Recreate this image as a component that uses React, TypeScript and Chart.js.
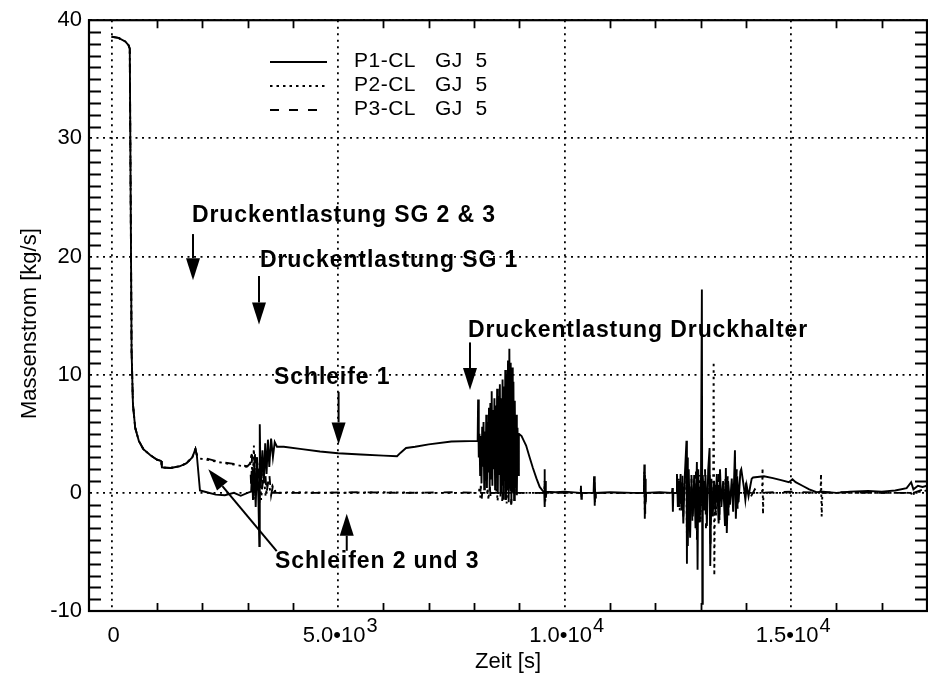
import React, { useEffect, useRef } from "react";
import { Chart, registerables } from "chart.js";

Chart.register(...registerables);

const FONT = "'Liberation Sans', Arial, Helvetica, sans-serif";

// ---------- data ----------
const seriesNames = ["P1-CL   GJ  5", "P2-CL   GJ  5", "P3-CL   GJ  5"];

const xMin = -500;
const xMax = 18000;
const yMin = -10;
const yMax = 40;
const xMajorTicks = [0, 5000, 10000, 15000];
const yMajorTicks = [-10, 0, 10, 20, 30, 40];
const xTickMantissa = ["0", "5.0\u202210", "1.0\u202210", "1.5\u202210"];
const xTickExponent = ["", "3", "4", "4"];

const xTitle = "Zeit [s]";
const yTitle = "Massenstrom [kg/s]";

// [time s, mass flow kg/s]
const startPhase: [number, number][] = [
  [0, 38.6], [150, 38.5], [300, 38.2], [370, 37.9], [400, 37.6], [420, 25], [440, 12],
  [470, 7.5], [520, 5.5], [600, 4.4], [700, 3.7], [850, 3.2], [1000, 2.8], [1090, 2.7],
  [1110, 2.15], [1300, 2.1], [1500, 2.25], [1650, 2.5], [1780, 3.0], [1850, 3.7], [1880, 3.2],
];

const p1Later: [number, number][] = [
  [1950, 0.2], [2100, 0.05], [2300, -0.15], [2500, -0.2], [2700, 0.0], [2850, -0.25], [3000, 0.0],
  [3080, 0.1], [3100, 1.8], [3120, -0.6], [3150, 2.6], [3180, -1.2], [3210, 3.0], [3240, -0.5],
  [3260, -4.5], [3270, 5.8], [3290, 0.4], [3330, 3.6], [3360, 0.8], [3390, 4.2], [3420, 1.6],
  [3450, 4.5], [3480, 2.2], [3520, 4.6], [3560, 3.0], [3600, 4.3], [3650, 3.9], [3800, 3.9],
  [4200, 3.7], [4600, 3.5], [5000, 3.35], [5500, 3.25], [6000, 3.15], [6300, 3.1], [6380, 3.4],
  [6500, 3.8], [6700, 3.9], [7000, 4.1], [7500, 4.35], [8080, 4.4],
  [8090, 7.9], [8105, 3.0], [8120, 5.0], [8135, 1.5], [8150, 4.8], [8165, 0.8], [8180, 5.6],
  [8195, 2.2], [8210, 6.0], [8225, 0.3], [8240, 5.2], [8255, 1.0], [8270, 6.6], [8285, 0.4],
  [8300, 6.0], [8315, 1.8], [8330, 7.2], [8345, 0.2], [8360, 7.6], [8375, 1.2], [8390, 8.6],
  [8405, 0.6], [8420, 7.0], [8435, 2.0], [8450, 8.0], [8465, 0.3], [8480, 7.4], [8495, 1.4],
  [8510, 8.8], [8525, 0.0], [8540, 8.2], [8555, 1.6], [8570, 9.2], [8585, -0.3], [8600, 8.0],
  [8615, 0.6], [8630, 9.6], [8645, -0.5], [8660, 9.0], [8675, 1.0], [8690, 10.4], [8705, -0.6],
  [8720, 10.0], [8735, 0.2], [8750, 11.2], [8765, -0.8], [8780, 12.2], [8795, 0.5], [8810, 11.0],
  [8825, -0.9], [8840, 10.6], [8855, 0.0], [8870, 9.4], [8885, -0.6], [8900, 7.8], [8915, 0.4],
  [8930, 6.6], [8945, -0.2], [8960, 5.5], [8975, 1.5], [8990, 5.0], [9050, 4.8], [9100, 4.4],
  [9150, 4.0], [9220, 3.1], [9300, 2.1], [9380, 1.2], [9450, 0.5], [9520, 0.15], [9550, 0.1],
  [9555, 2.0], [9565, -1.2], [9575, 1.0], [9585, -0.4], [9600, 0.1], [9800, 0.05], [10000, 0.1],
  [10350, 0.0], [10360, 0.6], [10370, -0.5], [10380, 0.0], [10640, 0.0], [10650, 1.4],
  [10660, -1.1], [10670, 0.8], [10680, -0.4], [10690, 0.0], [11000, 0.05], [11500, 0.0],
  [11750, 0.0], [11760, 2.4], [11770, -2.2], [11780, 1.2], [11790, -0.8], [11800, 0.0],
  [12100, 0.05], [12370, 0.0], [12380, 0.4], [12390, -1.6], [12400, 0.0], [12470, 0.0],
  [12480, 1.6], [12500, -1.2], [12520, 1.0], [12540, -0.8], [12560, 1.6],
  [12580, -1.5], [12600, 0.8], [12620, -2.6], [12650, 1.2], [12690, 4.4], [12700, -6.0],
  [12710, 3.0], [12720, -4.5], [12740, 2.0], [12770, -3.8], [12800, 1.2], [12830, -2.0],
  [12860, 1.5], [12890, -3.0], [12920, 2.6], [12935, -6.5], [12950, 2.0], [12980, -2.5],
  [13010, 1.0], [13030, 17.2], [13040, -9.4], [13050, 1.5], [13080, -1.5], [13110, 1.5],
  [13140, -2.8], [13170, 2.0], [13200, 3.8], [13215, -6.2], [13240, 1.2], [13270, -2.0],
  [13300, 1.0], [13330, -1.6], [13360, 1.6], [13400, -2.6], [13430, 2.0], [13460, -1.2],
  [13500, 1.0], [13540, -2.8], [13560, 2.1], [13580, -3.4], [13610, 1.0], [13650, -1.0],
  [13690, 1.2], [13720, -1.6], [13760, 3.6], [13780, -2.2], [13810, 1.4], [13840, -0.8],
  [13880, 1.8], [13900, 2.0], [13930, 1.2], [13960, 0.4], [13990, -0.6], [14020, 0.6],
  [14060, -0.3], [14100, 0.6], [14130, 1.2], [14160, 1.3], [14400, 1.4], [14600, 1.25],
  [14800, 1.05], [14950, 0.9], [15030, 1.15], [15100, 0.9], [15250, 0.6], [15400, 0.3],
  [15560, 0.05], [15700, 0.1], [16000, 0.0], [16300, 0.1], [16700, 0.15], [17000, 0.1],
  [17300, 0.2], [17550, 0.4], [17650, 0.9], [17700, 0.3], [17800, 0.6], [17900, 0.5], [18000, 0.6],
];

const p2Later: [number, number][] = [
  [1950, 2.9], [2100, 2.8], [2300, 2.65], [2500, 2.5], [2700, 2.4], [2900, 2.25], [3000, 2.2],
  [3050, 2.3], [3090, 3.4], [3110, 0.6], [3140, 4.0], [3170, -0.6], [3200, 3.0], [3230, 0.2],
  [3270, 2.6], [3300, -0.6], [3350, 1.8], [3400, -0.3], [3450, 1.0], [3500, 0.2], [3550, 0.6],
  [3600, 0.0], [4000, 0.05], [5000, 0.0], [6000, 0.05], [7000, 0.0], [8110, 0.0], [8120, 0.5],
  [8140, -0.4], [8150, 0.0], [8290, 0.0], [8300, 0.4], [8320, -0.6], [8330, 0.0], [8490, 0.0],
  [8500, 0.5], [8520, -0.7], [8530, 0.0], [8690, 0.0], [8700, 0.6], [8720, -0.9], [8730, 0.0],
  [8890, 0.0], [8900, 0.3], [8910, 0.0], [9550, 0.0], [9560, 1.0], [9570, -0.9], [9580, 0.0],
  [10350, 0.0], [10360, 0.4], [10370, -0.4], [10380, 0.0], [11750, 0.0], [11760, 1.8],
  [11770, -1.4], [11780, 0.0], [12510, 0.0], [12520, 1.2], [12540, -1.5], [12560, 0.0],
  [12680, 0.0], [12690, 1.0], [12700, -3.8], [12720, 0.5], [12730, 0.0], [12970, 0.0],
  [12980, 1.5], [13000, -2.5], [13020, 0.2], [13030, 0.0], [13280, 0.0], [13290, 11.1],
  [13305, -7.0], [13320, 0.8], [13340, -2.0], [13360, 0.0], [13540, 0.0], [13550, 1.2],
  [13570, -2.0], [13590, 0.0], [13790, 0.0], [13800, 0.8], [13820, -1.0], [13840, 0.0],
  [14360, 0.0], [14370, 2.1], [14380, -1.8], [14390, 0.0], [15650, 0.0], [15660, 1.6],
  [15675, -2.0], [15690, 0.0], [17590, 0.0], [17600, 0.2], [17700, -0.3], [17710, 0.0], [18000, 0.2],
];

const p3Later: [number, number][] = [
  [1950, 3.0], [2100, 2.9], [2300, 2.7], [2500, 2.55], [2700, 2.45], [2900, 2.3], [3000, 2.25],
  [3060, 2.5], [3080, 0.5], [3100, 3.2], [3130, -0.2], [3160, 3.6], [3190, 0.4], [3230, 2.2],
  [3260, -1.0], [3290, 3.0], [3320, 0.3], [3380, 2.4], [3420, 0.0], [3480, 1.6], [3520, -0.2],
  [3570, 0.8], [3620, 0.0], [4500, 0.0], [5500, 0.05], [6500, 0.0], [7500, 0.05], [8140, 0.0],
  [8150, 0.6], [8170, -0.5], [8180, 0.0], [8340, 0.0], [8350, 0.5], [8370, -0.6], [8380, 0.0],
  [8590, 0.0], [8600, 0.7], [8620, -0.8], [8630, 0.0], [8790, 0.0], [8800, 0.6], [8820, -1.0],
  [8830, 0.0], [9550, 0.0], [9560, 0.8], [9570, -0.6], [9580, 0.0], [10650, 0.0], [10660, 0.9],
  [10670, -0.8], [10680, 0.0], [11760, 0.0], [11770, 1.5], [11780, -1.8], [11790, 0.0],
  [12490, 0.0], [12500, 0.8], [12520, -1.2], [12530, 0.0], [12590, 0.0], [12600, 1.6],
  [12620, -2.0], [12630, 0.0], [12690, 0.0], [12700, 2.5], [12720, -3.5], [12730, 0.0],
  [12790, 0.0], [12800, 1.5], [12820, -2.5], [12830, 0.0], [12890, 0.0], [12900, 1.8],
  [12920, -4.0], [12930, 0.0], [13090, 0.0], [13100, 2.0], [13120, -3.0], [13130, 0.0],
  [13190, 0.0], [13200, 1.5], [13220, -4.5], [13230, 0.0], [13390, 0.0], [13400, 1.6],
  [13420, -2.5], [13430, 0.0], [13590, 0.0], [13600, 1.4], [13620, -2.0], [13630, 0.0],
  [13790, 0.0], [13800, 2.0], [13820, -1.5], [13830, 0.0], [13990, 0.0], [14000, 0.6],
  [14100, -0.4], [14200, 0.3], [14300, 0.0], [15000, 0.1], [15600, 0.0], [16000, 0.05],
  [17000, 0.0], [17550, 0.0], [17600, 0.3], [17700, 0.0], [18000, 0.4],
];

// annotations in data coordinates (time, flow) – text baseline-left
const noteTexts: { text: string; t: number; v: number }[] = [
  { text: "Druckentlastung SG 2 & 3", t: 1774, v: 22.9 },
  { text: "Druckentlastung SG 1", t: 3275, v: 19.1 },
  { text: "Schleife 1", t: 3584, v: 9.2 },
  { text: "Druckentlastung Druckhalter", t: 7867, v: 13.2 },
  { text: "Schleifen 2 und 3", t: 3606, v: -6.4 },
];
const noteArrows: { from: [number, number]; to: [number, number] }[] = [
  { from: [1796, 21.9], to: [1796, 18.0] },
  { from: [3253, 18.35], to: [3253, 14.25] },
  { from: [5010, 8.55], to: [5010, 4.1] },
  { from: [7911, 12.73], to: [7911, 8.7] },
  { from: [5190, -4.9], to: [5190, -1.76] },
  { from: [3644, -4.94], to: [2134, 2.0] },
];

const toPoints = (pairs: [number, number][]) => pairs.map(([x, y]) => ({ x, y }));

function drawArrow(ctx: CanvasRenderingContext2D, x1: number, y1: number, x2: number, y2: number) {
  const headLen = 22;
  const headHalf = 7;
  const ang = Math.atan2(y2 - y1, x2 - x1);
  const bx = x2 - headLen * Math.cos(ang);
  const by = y2 - headLen * Math.sin(ang);
  ctx.beginPath();
  ctx.moveTo(x1, y1);
  ctx.lineTo(bx, by);
  ctx.stroke();
  ctx.beginPath();
  ctx.moveTo(x2, y2);
  ctx.lineTo(bx + headHalf * Math.sin(ang), by - headHalf * Math.cos(ang));
  ctx.lineTo(bx - headHalf * Math.sin(ang), by + headHalf * Math.cos(ang));
  ctx.closePath();
  ctx.fill();
}

const overlayPlugin = {
  id: "overlay",
  afterDatasetsDraw(chart: any) {
    const { ctx, scales } = chart;
    const xs = scales.x;
    const ys = scales.y;
    ctx.save();
    ctx.strokeStyle = "#000";
    ctx.fillStyle = "#000";
    ctx.lineWidth = 2;
    ctx.setLineDash([]);
    noteArrows.forEach((ar) => {
      drawArrow(
        ctx,
        xs.getPixelForValue(ar.from[0]),
        ys.getPixelForValue(ar.from[1]),
        xs.getPixelForValue(ar.to[0]),
        ys.getPixelForValue(ar.to[1])
      );
    });
    ctx.font = `bold 23px ${FONT}`;
    (ctx as any).letterSpacing = "0.9px";
    ctx.textAlign = "left";
    ctx.textBaseline = "alphabetic";
    noteTexts.forEach((n) => {
      ctx.fillText(n.text, xs.getPixelForValue(n.t), ys.getPixelForValue(n.v));
    });
    (ctx as any).letterSpacing = "0px";
    ctx.restore();
  },
  afterDraw(chart: any) {
    const { ctx, chartArea: a, scales } = chart;
    const xs = scales.x;
    const ys = scales.y;
    ctx.save();
    ctx.strokeStyle = "#000";
    ctx.fillStyle = "#000";
    ctx.setLineDash([]);
    // minor ticks
    ctx.lineWidth = 1.8;
    ctx.beginPath();
    for (let v = yMin + 1; v < yMax; v += 1) {
      if (v % 10 === 0) continue;
      const py = Math.round(ys.getPixelForValue(v)) + 0.5;
      ctx.moveTo(a.left, py);
      ctx.lineTo(a.left + 12, py);
      ctx.moveTo(a.right - 12, py);
      ctx.lineTo(a.right, py);
    }
    for (let t = 1000; t < xMax; t += 1000) {
      if (t % 5000 === 0) continue;
      const px = Math.round(xs.getPixelForValue(t)) + 0.5;
      ctx.moveTo(px, a.bottom);
      ctx.lineTo(px, a.bottom - 8);
      ctx.moveTo(px, a.top);
      ctx.lineTo(px, a.top + 8);
    }
    ctx.stroke();
    // frame
    ctx.lineWidth = 2.2;
    ctx.strokeRect(a.left, a.top, a.right - a.left, a.bottom - a.top);

    // x tick labels with superscript exponents
    xMajorTicks.forEach((t, i) => {
      const px = xs.getPixelForValue(t);
      ctx.font = `22px ${FONT}`;
      const wm = ctx.measureText(xTickMantissa[i]).width;
      ctx.font = `20px ${FONT}`;
      const we = xTickExponent[i] ? ctx.measureText(xTickExponent[i]).width + 1 : 0;
      const x0 = px - (wm + we) / 2 + 2;
      ctx.textAlign = "left";
      ctx.textBaseline = "alphabetic";
      ctx.font = `22px ${FONT}`;
      ctx.fillText(xTickMantissa[i], x0, a.bottom + 31);
      if (xTickExponent[i]) {
        ctx.font = `20px ${FONT}`;
        ctx.fillText(xTickExponent[i], x0 + wm + 1, a.bottom + 21);
      }
    });
    // axis titles
    ctx.font = `22px ${FONT}`;
    ctx.textAlign = "center";
    ctx.textBaseline = "alphabetic";
    ctx.fillText(xTitle, (a.left + a.right) / 2, a.bottom + 57);
    ctx.save();
    ctx.translate(30, (a.top + a.bottom) / 2 + 8);
    ctx.rotate(-Math.PI / 2);
    ctx.textBaseline = "middle";
    ctx.fillText(yTitle, 0, 0);
    ctx.restore();

    // legend
    chart.data.datasets.forEach((ds: any, i: number) => {
      const ly = 62 + i * 24;
      ctx.lineWidth = ds.borderWidth;
      ctx.setLineDash(ds.borderDash || []);
      ctx.beginPath();
      ctx.moveTo(270, ly);
      ctx.lineTo(327, ly);
      ctx.stroke();
      ctx.setLineDash([]);
      ctx.font = `21px ${FONT}`;
      (ctx as any).letterSpacing = "0.5px";
      ctx.textAlign = "left";
      ctx.textBaseline = "middle";
      ctx.fillText(ds.label, 354, ly - 1);
      (ctx as any).letterSpacing = "0px";
    });
    ctx.restore();
  },
};

export default function App() {
  const canvasRef = useRef<HTMLCanvasElement | null>(null);

  useEffect(() => {
    document.body.style.margin = "0";
    const canvas = canvasRef.current;
    if (!canvas) return;
    const gridOpts = { color: "#000", lineWidth: 1.8, drawTicks: false };
    const chart = new Chart(canvas, {
      type: "line",
      data: {
        datasets: [
          {
            label: seriesNames[0],
            data: toPoints([...startPhase, ...p1Later]),
            borderColor: "#000",
            borderWidth: 1.9,
            borderDash: [],
            pointRadius: 0,
            tension: 0,
          },
          {
            label: seriesNames[1],
            data: toPoints([...startPhase, ...p2Later]),
            borderColor: "#000",
            borderWidth: 1.9,
            borderDash: [2.5, 4],
            pointRadius: 0,
            tension: 0,
          },
          {
            label: seriesNames[2],
            data: toPoints([...startPhase, ...p3Later]),
            borderColor: "#000",
            borderWidth: 1.9,
            borderDash: [9, 10],
            pointRadius: 0,
            tension: 0,
          },
        ],
      },
      options: {
        animation: false,
        responsive: false,
        devicePixelRatio: 1,
        parsing: false,
        normalized: true,
        layout: { padding: { top: 15, right: 1, left: 0, bottom: 0 } },
        plugins: { legend: { display: false }, tooltip: { enabled: false } },
        scales: {
          x: {
            type: "linear",
            min: xMin,
            max: xMax,
            afterBuildTicks: (s: any) => {
              s.ticks = xMajorTicks.map((value) => ({ value }));
            },
            afterFit: (s: any) => {
              s.height = 63;
            },
            ticks: { display: false, autoSkip: false },
            grid: gridOpts,
            border: { display: true, color: "#000", width: 2, dash: [2, 4.5] },
          },
          y: {
            type: "linear",
            min: yMin,
            max: yMax,
            afterBuildTicks: (s: any) => {
              s.ticks = yMajorTicks.map((value) => ({ value }));
            },
            afterFit: (s: any) => {
              s.width = 89;
            },
            ticks: {
              color: "#000",
              padding: 7,
              autoSkip: false,
              font: { family: FONT, size: 22 },
            },
            grid: gridOpts,
            border: { display: true, color: "#000", width: 2, dash: [2, 4.5] },
          },
        },
      } as any,
      plugins: [overlayPlugin],
    });
    return () => chart.destroy();
  }, []);

  return (
    <div style={{ width: 928, height: 674, background: "#fff" }}>
      <canvas ref={canvasRef} width={928} height={674} style={{ display: "block" }} />
    </div>
  );
}
